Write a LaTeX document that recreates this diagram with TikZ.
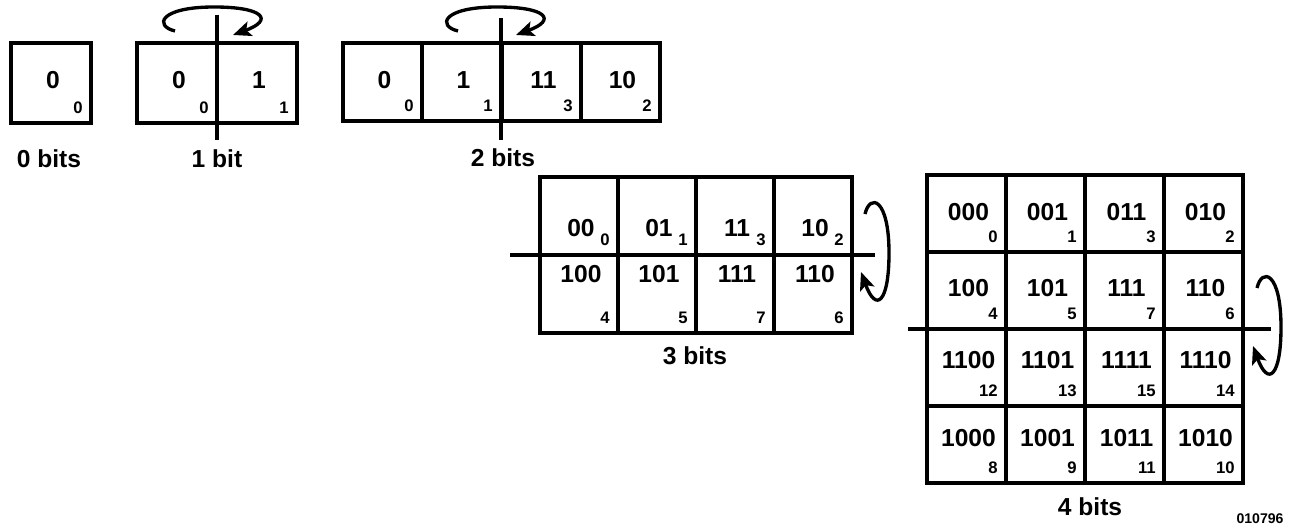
\documentclass[tikz,border=0pt]{standalone}
\usepackage{fontspec}
\setmainfont{Liberation Sans}
\usetikzlibrary{calc}
\usetikzlibrary{arrows.meta}
\newcommand{\bitfont}{\fontsize{14}{16}\selectfont\bfseries}
\newcommand{\idxfont}{\fontsize{9.5}{11}\selectfont\bfseries}
\tikzset{
  cell/.style={draw,rectangle,line width=2pt,inner sep=0pt,outer sep=0pt,
    anchor=north west,minimum width=1.58cm,minimum height=1.56cm},
  axis/.style={line width=2.8pt},
  caption/.style={font=\bitfont,anchor=base,inner sep=0pt},
}
% #1 drop of the code below the top, #2 name, #3 place, #4 code, #5 index
\newcommand{\kcell}[5][46]{%
  \node[cell] (#2) at #3 {};
  \node[font=\bitfont,anchor=base,inner sep=0pt] (#2-l) at ($(#2.north)+(2,#1)$) {#4};
  \node[font=\idxfont,anchor=base east,inner sep=0pt] (#2-n) at ($(#2.south east)+(-8,-9)$) {#5};
}
\tikzset{turn/.pic={ %{{{
  \draw[line width=1.9pt,-{Stealth[length=3.6mm,width=3mm,inset=0.8mm]}]
    (-39,11) .. controls (-60,6) and (-55,-13) .. (0,-13)
    .. controls (50,-13) and (60,0) .. (19,15);
}}
%}}}
\begin{document}
\begin{tikzpicture}[x=0.02cm,y=-0.02cm]
  \useasboundingbox (0,0) rectangle (1294,526);

  % 0 bits
  \begin{scope}[shift={(11,43)},cell/.append style={minimum width=1.6cm,minimum height=1.6cm}]
    \kcell{a0}{(0,0)}{0}{0}
  \end{scope}
  \node[caption] (cap0) at (49,168) {0 bits};

  % 1 bit
  \begin{scope}[shift={(137,43)},cell/.append style={minimum width=1.6cm,minimum height=1.6cm}]
    \kcell{b0}{(0,0)}{0}{0}
    \kcell{b1}{(80,0)}{1}{1}
  \end{scope}
  \draw[axis] ($(b0.north east)+(0,-28)$) -- ($(b0.south east)+(0,17)$);
  \coordinate (rot1) at (214,20);
  \pic at (rot1) {turn};
  \node[caption] (cap1) at (217,168) {1 bit};

  % 2 bits
  \begin{scope}[shift={(343,43)}]
    \kcell{c0}{(0,0)}{0}{0}
    \kcell{c1}{(79,0)}{1}{1}
    \kcell{c2}{(159,0)}{11}{3}
    \kcell{c3}{(238,0)}{10}{2}
  \end{scope}
  \draw[axis] ($(c1.north east)+(0,-25)$) -- ($(c1.south east)+(0,19)$);
  \coordinate (rot2) at (497,20);
  \pic at (rot2) {turn};
  \node[caption] (cap2) at (503,167) {2 bits};

  % 3 bits
  \begin{scope}[shift={(540,177)},cell/.append style={minimum width=1.56cm}]
    \kcell[60]{e0}{(0,0)}{00}{0}
    \kcell[60]{e1}{(78,0)}{01}{1}
    \kcell[60]{e2}{(156,0)}{11}{3}
    \kcell[60]{e3}{(234,0)}{10}{2}
    \kcell[28]{e4}{(0,78)}{100}{4}
    \kcell[28]{e5}{(78,78)}{101}{5}
    \kcell[28]{e6}{(156,78)}{111}{7}
    \kcell[28]{e7}{(234,78)}{110}{6}
  \end{scope}
  \draw[axis] ($(e4.north west)+(-30,0)$) -- ($(e7.north east)+(23,0)$);
  \coordinate (rot3) at (876,253);
  \pic[rotate=-90] at (rot3) {turn};
  \node[caption] (cap3) at (695,365) {3 bits};

  % 4 bits
  \begin{scope}[shift={(927,175)},cell/.append style={minimum height=1.54cm}]
    \kcell{f0}{(0,0)}{000}{0}
    \kcell{f1}{(79,0)}{001}{1}
    \kcell{f2}{(158,0)}{011}{3}
    \kcell{f3}{(237,0)}{010}{2}
    \kcell[45]{f4}{(0,77)}{100}{4}
    \kcell[45]{f5}{(79,77)}{101}{5}
    \kcell[45]{f6}{(158,77)}{111}{7}
    \kcell[45]{f7}{(237,77)}{110}{6}
    \kcell[40]{f8}{(0,154)}{1100}{12}
    \kcell[40]{f9}{(79,154)}{1101}{13}
    \kcell[40]{f10}{(158,154)}{1111}{15}
    \kcell[40]{f11}{(237,154)}{1110}{14}
    \kcell[40]{f12}{(0,231)}{1000}{8}
    \kcell[40]{f13}{(79,231)}{1001}{9}
    \kcell[40]{f14}{(158,231)}{1011}{11}
    \kcell[40]{f15}{(237,231)}{1010}{10}
  \end{scope}
  \draw[axis] ($(f8.north west)+(-19,0)$) -- ($(f11.north east)+(28,0)$);
  \coordinate (rot4) at (1268,327);
  \pic[rotate=-90] at (rot4) {turn};
  \node[caption] (cap4) at (1090,515) {4 bits};

  \node[font=\fontsize{8}{9}\selectfont\bfseries,anchor=base,inner sep=0pt] (tag) at (1260,523) {010796};
\end{tikzpicture}
\end{document}
